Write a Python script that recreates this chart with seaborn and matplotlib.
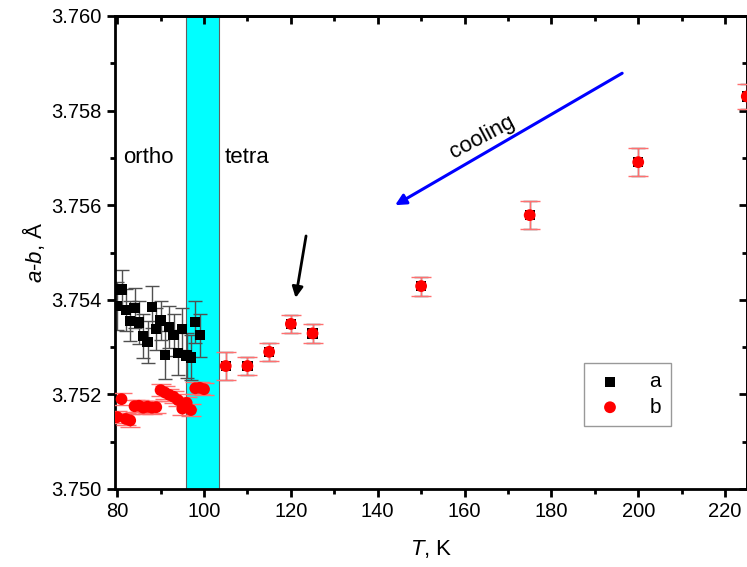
import numpy as np
import pandas as pd
import matplotlib
matplotlib.use("Agg")
import matplotlib.pyplot as plt
import seaborn as sns
from matplotlib.ticker import MultipleLocator

# ---------------- data ----------------
T_ortho_a = [80, 81, 82, 83, 84, 85, 86, 87, 88, 89, 90, 91, 92, 93, 94, 95, 96, 97, 98, 99]
a_ortho = [3.75387, 3.75422, 3.75378, 3.75355, 3.75383, 3.75352, 3.75324, 3.75311, 3.75385, 3.75338,
           3.75356, 3.75283, 3.75342, 3.75326, 3.75288, 3.75338, 3.75282, 3.75278, 3.75353, 3.75325]
a_ortho_err = [0.00050, 0.00042, 0.00045, 0.00042, 0.00043, 0.00045, 0.00046, 0.00044, 0.00044, 0.00045,
               0.00042, 0.00050, 0.00044, 0.00044, 0.00048, 0.00044, 0.00048, 0.00048, 0.00044, 0.00045]

T_ortho_b = [80, 81, 82, 83, 84, 85, 86, 87, 88, 89, 90, 91, 92, 93, 94, 95, 96, 97, 98, 99, 100]
b_ortho = [3.75152, 3.75190, 3.75148, 3.75145, 3.75175, 3.75176, 3.75172, 3.75174, 3.75172, 3.75173,
           3.75209, 3.75204, 3.75199, 3.75195, 3.75188, 3.75170, 3.75182, 3.75167, 3.75213, 3.75214, 3.75211]
b_ortho_err = [0.00013] * 21

T_tetra = [105, 110, 115, 120, 125, 150, 175, 200, 225]
ab_tetra = [3.75260, 3.75260, 3.75290, 3.75349, 3.75329, 3.75429, 3.75579, 3.75691, 3.75830]
ab_tetra_err = [0.00030, 0.00020, 0.00019, 0.00019, 0.00020, 0.00020, 0.00030, 0.00029, 0.00027]

band = (95.8, 103.4)

# ---------------- style ----------------
sns.set_style("ticks")
plt.rcParams['font.family'] = ['Liberation Sans', 'DejaVu Sans']
plt.rcParams['mathtext.fontset'] = 'custom'
plt.rcParams['mathtext.it'] = 'Liberation Sans:italic'
plt.rcParams['mathtext.rm'] = 'Liberation Sans'
for k in ['text.color', 'axes.labelcolor', 'xtick.color', 'ytick.color', 'axes.edgecolor']:
    plt.rcParams[k] = 'black'

T_a = T_ortho_a + T_tetra
v_a = a_ortho + ab_tetra
e_a = a_ortho_err + ab_tetra_err
T_b = T_ortho_b + T_tetra
v_b = b_ortho + ab_tetra
e_b = b_ortho_err + ab_tetra_err

df = pd.DataFrame({
    'T': T_a + T_b,
    'v': v_a + v_b,
    'series': ['a'] * len(T_a) + ['b'] * len(T_b),
})

fig = plt.figure(figsize=(7.47, 5.67), dpi=100)
ax = fig.add_axes([115 / 747, 1 - 489 / 567, (747 - 115) / 747, (489 - 16) / 567])

ax.axvspan(band[0], band[1], facecolor='#00FFFF', edgecolor='#606060', lw=0.8, zorder=0)

ax.errorbar(T_a, v_a, yerr=e_a, fmt='none', ecolor='#505050', elinewidth=1.0,
            capsize=5, capthick=1.0, zorder=1)
sns.scatterplot(data=df[df.series == 'a'], x='T', y='v', marker='s', color='black',
                s=55, edgecolor='none', ax=ax, zorder=2, label='a')
ax.errorbar(T_b, v_b, yerr=e_b, fmt='none', ecolor='#ff7070', elinewidth=1.0,
            capsize=7, capthick=1.0, zorder=3)
sns.scatterplot(data=df[df.series == 'b'], x='T', y='v', marker='o', color='red',
                s=72, edgecolor='none', ax=ax, zorder=4, label='b')

ax.set_xlim(79.5, 225.05)
ax.set_ylim(3.750, 3.760)
ax.xaxis.set_major_locator(MultipleLocator(20))
ax.xaxis.set_minor_locator(MultipleLocator(10))
ax.yaxis.set_major_locator(MultipleLocator(0.002))
ax.yaxis.set_minor_locator(MultipleLocator(0.001))
ax.yaxis.set_major_formatter(matplotlib.ticker.FormatStrFormatter('%.3f'))

for s in ax.spines.values():
    s.set_linewidth(2)
    s.set_color('black')
ax.tick_params(which='major', direction='out', length=6, width=2, labelsize=14.5, colors='black')
ax.tick_params(which='minor', direction='out', length=3.5, width=2)

secx = ax.secondary_xaxis('top')
secx.xaxis.set_major_locator(MultipleLocator(20))
secx.xaxis.set_minor_locator(MultipleLocator(10))
secx.tick_params(which='major', direction='in', length=6, width=2, labeltop=False)
secx.tick_params(which='minor', direction='in', length=3.5, width=2)
secx.spines['top'].set_linewidth(2)
secy = ax.secondary_yaxis('right')
secy.yaxis.set_major_locator(MultipleLocator(0.002))
secy.yaxis.set_minor_locator(MultipleLocator(0.001))
secy.tick_params(which='major', direction='in', length=6, width=2, labelright=False)
secy.tick_params(which='minor', direction='in', length=3.5, width=2)
secy.spines['right'].set_linewidth(2)

ax.set_xlabel(r'$\mathit{T}$, K', fontsize=16, labelpad=12)
ax.set_ylabel(r'$\mathit{a}$-$\mathit{b}$, Å', fontsize=16, labelpad=3)

ax.text(87.1, 3.75700, 'ortho', fontsize=16, ha='center', va='center')
ax.text(110.0, 3.75700, 'tetra', fontsize=16, ha='center', va='center')
ax.text(164.0, 3.75744, 'cooling', fontsize=16, ha='center', va='center', rotation=28)

ax.annotate('', xy=(144.0, 3.75600), xytext=(196.3, 3.75879),
            arrowprops=dict(arrowstyle='-|>', color='#0000ff', lw=2.2, mutation_scale=16,
                            shrinkA=0, shrinkB=0))
ax.annotate('', xy=(121.1, 3.75404), xytext=(123.5, 3.75535),
            arrowprops=dict(arrowstyle='-|>', color='black', lw=2.0, mutation_scale=16,
                            shrinkA=0, shrinkB=0))

handles, labels = ax.get_legend_handles_labels()
leg = ax.legend(handles, labels, loc='lower left', bbox_to_anchor=(0.742, 0.133),
                fontsize=15, frameon=True, fancybox=False, edgecolor='#808080',
                handletextpad=1.1, borderpad=0.45, labelspacing=0.3, markerfirst=True,
                handlelength=1.6, borderaxespad=0)
leg.get_frame().set_linewidth(1.0)

fig.savefig('out.png', dpi=100)
